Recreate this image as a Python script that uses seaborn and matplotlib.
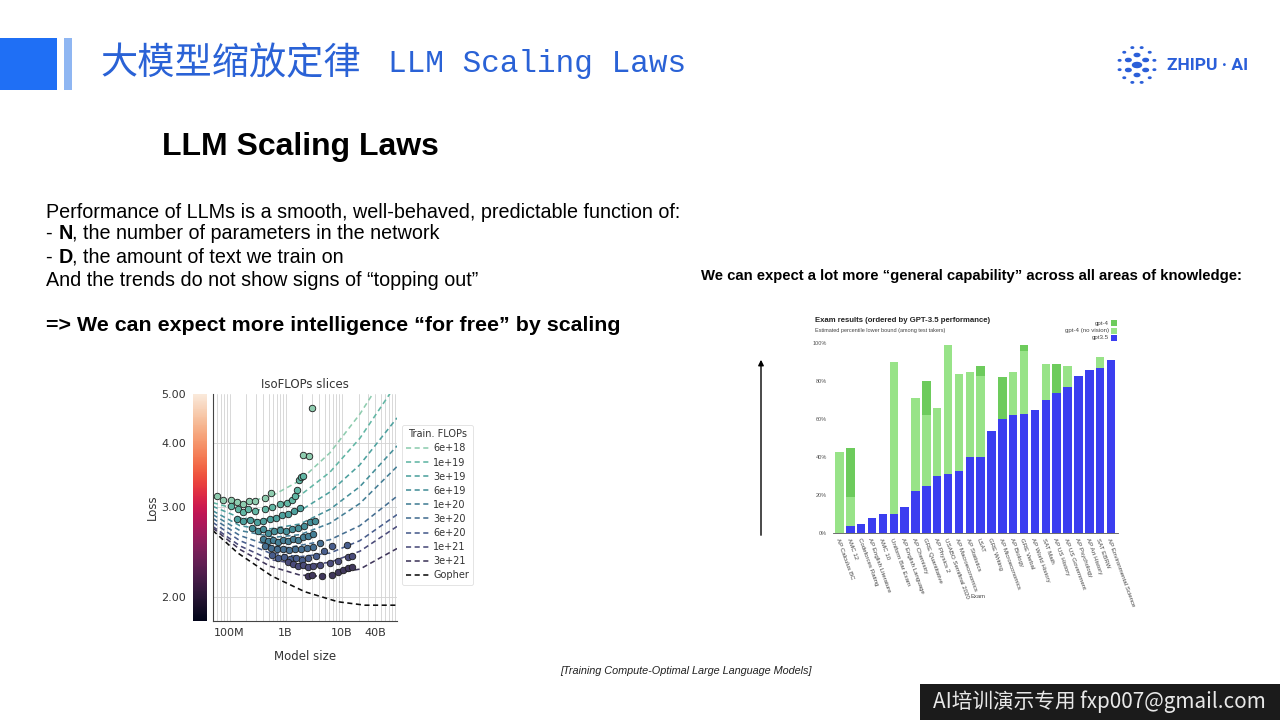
import numpy as np
import pandas as pd
import matplotlib
matplotlib.use("Agg")
import matplotlib.pyplot as plt
import seaborn as sns
from matplotlib.lines import Line2D
from matplotlib.patches import Rectangle, Circle
from matplotlib.ticker import FixedLocator, FixedFormatter, LogLocator, NullFormatter, NullLocator

# ---------------- data: exam results (GPT-4 report style) ----------------
exams = ["AP Calculus BC", "AMC 12", "Codeforces Rating", "AP English Literature", "AMC 10",
         "Uniform Bar Exam", "AP English Language", "AP Chemistry", "GRE Quantitative",
         "AP Physics 2", "USABO Semifinal 2020", "AP Macroeconomics", "AP Statistics", "LSAT",
         "GRE Writing", "AP Microeconomics", "AP Biology", "GRE Verbal", "AP World History",
         "SAT Math", "AP US History", "AP US Government", "AP Psychology", "AP Art History",
         "SAT EBRW", "AP Environmental Science"]
gpt35 = [0, 4, 5, 8, 10, 10, 14, 22, 25, 30, 31, 33, 40, 40, 54, 60, 62, 63, 65, 70, 74, 77, 83, 86, 87, 91]
gpt4_novision = [43, 19, 5, 8, 10, 90, 14, 71, 62, 66, 99, 84, 85, 83, 54, 60, 85, 96, 65, 89, 74, 88, 83, 86, 93, 91]
gpt4 = [43, 45, 5, 8, 10, 90, 14, 71, 80, 66, 99, 84, 85, 88, 54, 82, 85, 99, 65, 89, 89, 88, 83, 86, 93, 91]
pct_ticks = [0, 20, 40, 60, 80, 100]
pct_labels = ["0%", "20%", "40%", "60%", "80%", "100%"]

# ---------------- data: IsoFLOPs slices (model size in billions, loss) ----------------
budgets = ["6e+18", "1e+19", "3e+19", "6e+19", "1e+20", "3e+20", "6e+20", "1e+21", "3e+21", "Gopher"]

curve_N_6e18 = [0.0503, 0.1527, 0.525, 1.80, 6.18, 21.2, 36.2, 48.3]
curve_L_6e18 = [3.13, 3.06, 3.14, 3.38, 3.83, 4.56, 5.00, 5.27]
curve_N_1e19 = [0.0503, 0.1527, 0.23, 0.525, 1.80, 6.18, 21.2, 72.9]
curve_L_1e19 = [3.06, 2.96, 2.95, 2.98, 3.16, 3.51, 4.09, 5.00]
curve_N_3e19 = [0.0503, 0.1527, 0.32, 0.525, 1.80, 6.18, 21.2, 97.2]
curve_L_3e19 = [3.01, 2.86, 2.83, 2.85, 2.95, 3.21, 3.63, 4.48]
curve_N_6e19 = [0.0503, 0.1527, 0.427, 1.80, 6.18, 21.2, 97.2]
curve_L_6e19 = [2.95, 2.76, 2.71, 2.78, 2.97, 3.29, 3.95]
curve_N_1e20 = [0.0503, 0.1527, 0.644, 1.80, 6.18, 21.2, 97.2]
curve_L_1e20 = [2.90, 2.70, 2.62, 2.65, 2.79, 3.05, 3.60]
curve_N_3e20 = [0.0503, 0.1527, 0.525, 1.10, 6.18, 21.2, 97.2]
curve_L_3e20 = [2.85, 2.64, 2.52, 2.50, 2.59, 2.76, 3.15]
curve_N_6e20 = [0.0503, 0.1527, 0.525, 1.80, 6.18, 21.2, 97.2]
curve_L_6e20 = [2.80, 2.58, 2.44, 2.40, 2.44, 2.58, 2.90]
curve_N_1e21 = [0.0503, 0.1527, 0.525, 2.21, 6.18, 21.2, 97.2]
curve_L_1e21 = [2.75, 2.52, 2.37, 2.31, 2.34, 2.46, 2.75]
curve_N_3e21 = [0.0503, 0.1527, 0.525, 1.80, 3.77, 21.2, 97.2]
curve_L_3e21 = [2.73, 2.48, 2.30, 2.21, 2.20, 2.27, 2.49]
curve_N_gopher = [0.0503, 0.1406, 0.569, 2.21, 8.59, 26.1, 97.2]
curve_L_gopher = [2.70, 2.44, 2.20, 2.05, 1.96, 1.93, 1.93]

pts_N_6e18 = [0.0586, 0.075, 0.104, 0.137, 0.175, 0.224, 0.283, 0.427, 0.546, 2.06, 2.61, 2.91]
pts_L_6e18 = [3.16, 3.10, 3.10, 3.07, 3.04, 3.08, 3.08, 3.13, 3.19, 3.79, 3.77, 4.68]
pts_N_1e19 = [0.104, 0.1425, 0.175, 0.215, 0.283, 0.427, 0.562, 0.791, 1.04, 1.28, 1.47, 1.57, 1.75, 1.88, 2.01]
pts_L_1e19 = [3.01, 2.97, 2.94, 2.97, 2.95, 2.97, 3.00, 3.04, 3.05, 3.10, 3.16, 3.24, 3.39, 3.43, 3.45]
pts_N_3e19 = [0.133, 0.173, 0.230, 0.307, 0.393, 0.525, 0.671, 0.859, 1.10, 1.41, 1.80]
pts_L_3e19 = [2.85, 2.82, 2.83, 2.81, 2.82, 2.85, 2.86, 2.89, 2.91, 2.95, 2.99]
pts_N_6e19 = [0.250, 0.320, 0.393, 0.483, 0.618, 0.791, 1.01, 1.30, 1.66, 2.12, 2.72, 3.34]
pts_L_6e19 = [2.73, 2.70, 2.72, 2.67, 2.70, 2.71, 2.70, 2.72, 2.73, 2.76, 2.80, 2.82]
pts_N_1e20 = [0.393, 0.483, 0.593, 0.729, 0.895, 1.10, 1.35, 1.66, 2.04, 2.50, 3.07]
pts_L_1e20 = [2.60, 2.58, 2.59, 2.57, 2.59, 2.58, 2.60, 2.59, 2.62, 2.63, 2.66]
pts_N_3e20 = [0.427, 0.546, 0.700, 0.895, 1.15, 1.47, 1.88, 2.40, 3.07, 4.10]
pts_L_3e20 = [2.52, 2.50, 2.48, 2.49, 2.47, 2.49, 2.48, 2.50, 2.51, 2.55]
pts_N_6e20 = [0.569, 0.729, 0.933, 1.19, 1.53, 1.95, 2.50, 3.48, 4.83, 6.71, 12.4]
pts_L_6e20 = [2.42, 2.39, 2.40, 2.38, 2.39, 2.37, 2.39, 2.41, 2.46, 2.52, 2.53]
pts_N_1e21 = [1.10, 1.35, 1.66, 2.04, 2.50, 3.07, 4.10, 6.18, 8.59, 13.0, 15.3]
pts_L_1e21 = [2.34, 2.32, 2.30, 2.31, 2.29, 2.30, 2.31, 2.33, 2.35, 2.40, 2.41]
pts_N_3e21 = [2.53, 2.91, 4.39, 6.63, 8.70, 10.7, 13.1, 15.1]
pts_L_3e21 = [2.20, 2.21, 2.20, 2.21, 2.24, 2.26, 2.28, 2.29]

size_ticks = [1e8, 1e9, 1e10, 4e10]
size_labels = ["100M", "1B", "10B", "40B"]
loss_ticks = [2, 3, 4, 5]
loss_labels = ["2.00", "3.00", "4.00", "5.00"]

curves = [(curve_N_6e18, curve_L_6e18), (curve_N_1e19, curve_L_1e19), (curve_N_3e19, curve_L_3e19),
          (curve_N_6e19, curve_L_6e19), (curve_N_1e20, curve_L_1e20), (curve_N_3e20, curve_L_3e20),
          (curve_N_6e20, curve_L_6e20), (curve_N_1e21, curve_L_1e21), (curve_N_3e21, curve_L_3e21),
          (curve_N_gopher, curve_L_gopher)]
points = [(pts_N_6e18, pts_L_6e18), (pts_N_1e19, pts_L_1e19), (pts_N_3e19, pts_L_3e19),
          (pts_N_6e19, pts_L_6e19), (pts_N_1e20, pts_L_1e20), (pts_N_3e20, pts_L_3e20),
          (pts_N_6e20, pts_L_6e20), (pts_N_1e21, pts_L_1e21), (pts_N_3e21, pts_L_3e21)]

# ---------------- figure ----------------
sns.set_style("white")
plt.rcParams['font.family'] = ['Liberation Sans', 'DejaVu Sans']
W, H = 1280, 720
fig = plt.figure(figsize=(12.8, 7.2), dpi=100)
fig.patch.set_facecolor("white")


def fx(px):
    return px / W


def fy(py):
    return 1 - py / H


# header
fig.add_artist(Rectangle((0, fy(90)), fx(57), 52 / H, transform=fig.transFigure, color="#1f6ff5", lw=0))
fig.add_artist(Rectangle((fx(64), fy(90)), fx(8), 52 / H, transform=fig.transFigure, color="#8fb6f2", lw=0))
fig.text(fx(100), fy(64), "大模型缩放定律", fontsize=26.8, color="#2a62d6", va="center", ha="left",
         family=["Noto Sans CJK SC", "DejaVu Sans"])
fig.text(fx(388), fy(64), "LLM Scaling Laws", fontsize=22.4, color="#2a62d6", va="center", ha="left",
         family=["Liberation Mono", "DejaVu Sans Mono"])

# logo
logo_c = "#2b5fd9"
cx, cy = 1137, 65
fig.add_artist(Circle((fx(cx), fy(cy)), 4.5 / W, transform=fig.transFigure, color=logo_c))
for ang in np.deg2rad([90, 150, 210, 270, 330, 30]):
    fig.add_artist(Circle((fx(cx + 10 * np.cos(ang)), fy(cy - 10 * np.sin(ang))), 2.8 / W,
                          transform=fig.transFigure, color=logo_c))
for ang in np.deg2rad(np.arange(0, 360, 30) + 15):
    fig.add_artist(Circle((fx(cx + 18 * np.cos(ang)), fy(cy - 18 * np.sin(ang))), 1.3 / W,
                          transform=fig.transFigure, color=logo_c))
fig.text(fx(1167), fy(66), "ZHIPU · AI", fontsize=12.5, color=logo_c, weight="bold", va="center", ha="left",
         family=["Roboto", "Liberation Sans"])

# footer
fig.add_artist(Rectangle((fx(920), 0), fx(360), 36 / H, transform=fig.transFigure, color="#1b1b1b", lw=0))
fig.text(fx(933), fy(702), "AI培训演示专用 fxp007@gmail.com", fontsize=14.9, color="#e8e8e8", va="center",
         ha="left", family=["Noto Sans CJK SC", "DejaVu Sans"])

# left text block
fig.text(fx(300), fy(147), "LLM Scaling Laws", fontsize=23, weight="bold", ha="center", va="center", color="black")
renderer = fig.canvas.get_renderer()


def runs(x_px, y_px, parts, size):
    x = x_px
    for txt, wt in parts:
        t = fig.text(fx(x), fy(y_px), txt, fontsize=size, weight=wt, ha="left", va="center", color="black")
        x += t.get_window_extent(renderer).width


body = 14.2
runs(46, 212, [("Performance of LLMs is a smooth, well-behaved, predictable function of:", "normal")], body)
runs(46, 234, [("- ", "normal"), ("N", "bold"), (", the number of parameters in the network", "normal")], body)
runs(46, 257, [("- ", "normal"), ("D", "bold"), (", the amount of text we train on", "normal")], body)
runs(46, 281, [("And the trends do not show signs of \u201ctopping out\u201d", "normal")], body)
runs(46, 326, [("=> We can expect more intelligence \u201cfor free\u201d by scaling", "bold")], 15.4)

fig.text(fx(701), fy(276), "We can expect a lot more \u201cgeneral capability\u201d across all areas of knowledge:",
         fontsize=10.7, weight="bold", ha="left", va="center", color="black")
fig.text(fx(812), fy(671), "[Training Compute-Optimal Large Language Models]", fontsize=7.8, style="italic",
         ha="right", va="center", color="#222")

# arrow
fig.add_artist(matplotlib.patches.FancyArrowPatch((fx(761), fy(538)), (fx(761), fy(357)),
                                                  transform=fig.transFigure, arrowstyle="-|>",
                                                  mutation_scale=8, color="black", lw=1.0))

# ---------------- IsoFLOPs chart ----------------
dv = ["DejaVu Sans"]
ax = fig.add_axes([fx(212.7), fy(620.7), 184 / W, 227.2 / H])
ax.set_xscale("log")
ax.set_yscale("log")
pal = sns.color_palette("mako_r", 12, desat=0.72)[1:10]
cols = list(pal) + [(0.05, 0.05, 0.05)]
dash = (0, (3.2, 2.2))
for (cn, cl), c in zip(curves, cols):
    sns.lineplot(x=np.array(cn) * 1e9, y=cl, ax=ax, color=c, linestyle=dash, lw=1.15,
                 estimator=None, errorbar=None, sort=False, legend=False, zorder=2)
for (pn, pl), c in zip(points, cols):
    sns.scatterplot(x=np.array(pn) * 1e9, y=pl, ax=ax, color=c, edgecolor="#1c1c1c", linewidth=0.6,
                    s=22, legend=False, zorder=3)
ax.set_xlim(5.0e7, 9.6e10)
ax.set_ylim(1.8, 5.0)
ax.xaxis.set_major_locator(FixedLocator(size_ticks))
ax.xaxis.set_major_formatter(FixedFormatter(size_labels))
ax.xaxis.set_minor_locator(LogLocator(base=10, subs=np.arange(2, 10), numticks=30))
ax.xaxis.set_minor_formatter(NullFormatter())
ax.yaxis.set_major_locator(FixedLocator([2, 3, 4]))
ax.yaxis.set_minor_locator(NullLocator())
ax.tick_params(axis="y", left=False, labelleft=False)
ax.tick_params(axis="x", which="both", length=0, labelsize=8, colors="#333", pad=5)
for lab in ax.get_xticklabels():
    lab.set_family(dv)
ax.grid(True, which="both", axis="x", color="#d2d2d2", lw=0.6)
ax.grid(True, which="major", axis="y", color="#d2d2d2", lw=0.6)
for s in ["top", "right"]:
    ax.spines[s].set_visible(False)
for s in ["left", "bottom"]:
    ax.spines[s].set_color("#444")
    ax.spines[s].set_linewidth(0.8)
ax.set_title("IsoFLOPs slices", fontsize=8.5, color="#333", pad=4, family=dv)
ax.set_xlabel("Model size", fontsize=8.5, color="#333", labelpad=9, family=dv)
ax.set_ylabel("")

handles = [Line2D([0], [0], color=c, linestyle=dash, lw=1.15) for c in cols]
leg = ax.legend(handles, budgets, title="Train. FLOPs", loc="upper left", bbox_to_anchor=(fx(402), fy(425)),
                bbox_transform=fig.transFigure, prop={"family": "DejaVu Sans", "size": 7},
                frameon=True, handlelength=2.3, labelspacing=0.42, borderpad=0.45, handletextpad=0.45,
                borderaxespad=0)
leg.get_title().set_family("DejaVu Sans")
leg.get_title().set_fontsize(7)
leg.get_title().set_color("#333")
for t in leg.get_texts():
    t.set_color("#333")
leg.get_frame().set_edgecolor("#d8d8d8")
leg.get_frame().set_linewidth(0.6)

cax = fig.add_axes([fx(193), fy(620.7), 14 / W, 227.2 / H])
cax.set_yscale("log")
yedges = np.geomspace(1.8, 5.0, 257)
cax.pcolormesh([0, 1], yedges, np.log(yedges[:-1]).reshape(-1, 1), cmap="rocket", shading="flat")
cax.set_ylim(1.8, 5.0)
cax.set_xlim(0, 1)
cax.set_xticks([])
cax.yaxis.set_major_locator(FixedLocator(loss_ticks))
cax.yaxis.set_major_formatter(FixedFormatter(loss_labels))
cax.yaxis.set_minor_locator(NullLocator())
cax.tick_params(axis="y", length=3, width=0.7, labelsize=8, colors="#333", pad=2)
for lab in cax.get_yticklabels():
    lab.set_family(dv)
for s in cax.spines.values():
    s.set_visible(False)
cax.set_ylabel("Loss", fontsize=8.5, color="#333", labelpad=2, family=dv)

# ---------------- exam bar chart ----------------
df = pd.DataFrame({"exam": exams, "gpt4": gpt4, "novision": gpt4_novision, "gpt35": gpt35})
c_g4, c_nv, c_35 = "#6dcb5c", "#98e388", "#3b3ef0"
bx = fig.add_axes([fx(833), fy(533.3), 284.5 / W, 190 / H])
for col, c in [("gpt4", c_g4), ("novision", c_nv), ("gpt35", c_35)]:
    sns.barplot(data=df, x="exam", y=col, order=exams, color=c, saturation=1, width=0.78,
                edgecolor="none", ax=bx, errorbar=None)
bx.set_xlim(-0.6, 25.6)
bx.set_ylim(0, 100)
bx.set_yticks(pct_ticks)
bx.set_yticklabels(pct_labels)
bx.set_xticks(range(len(exams)))
bx.set_xticklabels(exams, rotation=-70, ha="left", rotation_mode="anchor")
bx.tick_params(axis="y", length=3, width=0.5, labelsize=4.0, colors="#555", pad=1.5)
bx.tick_params(axis="x", length=1.5, width=0.5, labelsize=4.4, colors="#444", pad=1.5)
bx.set_xlabel("")
bx.set_ylabel("")
bx.set_facecolor("none")
for s in ["top", "right", "left"]:
    bx.spines[s].set_visible(False)
bx.spines["bottom"].set_color("#555")
bx.spines["bottom"].set_linewidth(0.6)
fig.text(fx(978), fy(597), "Exam", fontsize=4.2, color="#444", ha="center", va="center")
fig.text(fx(815), fy(320), "Exam results (ordered by GPT-3.5 performance)", fontsize=5.6, weight="bold",
         ha="left", va="center", color="#222")
fig.text(fx(815), fy(331), "Estimated percentile lower bound (among test takers)", fontsize=3.95,
         ha="left", va="center", color="#444")
for yy, lab, c in [(323, "gpt-4", c_g4), (330.5, "gpt-4 (no vision)", c_nv), (338, "gpt3.5", c_35)]:
    fig.text(fx(1109), fy(yy), lab, fontsize=4.4, ha="right", va="center", color="#444")
    fig.add_artist(Rectangle((fx(1111), fy(yy + 3)), 6 / W, 6 / H, transform=fig.transFigure, color=c, lw=0))

fig.savefig("out.png", dpi=100)
